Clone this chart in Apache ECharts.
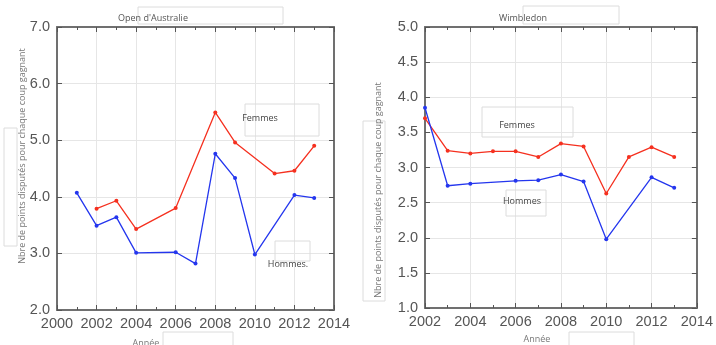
<!DOCTYPE html>
<html>
<head>
<meta charset="utf-8">
<script src="https://cdn.jsdelivr.net/npm/echarts@6/dist/echarts.min.js"></script>
<style>
html,body{margin:0;padding:0;background:#fff;}
#c{width:716px;height:345px;}
</style>
</head>
<body>
<div id="c"></div>
<script>
// Open d'Australie
const ausYearsH = [2001, 2002, 2003, 2004, 2006, 2007, 2008, 2009, 2010, 2012, 2013];
const ausH = [4.07, 3.49, 3.64, 3.01, 3.02, 2.82, 4.76, 4.33, 2.98, 4.03, 3.98];
const ausYearsF = [2002, 2003, 2004, 2006, 2008, 2009, 2011, 2012, 2013];
const ausF = [3.79, 3.93, 3.43, 3.80, 5.49, 4.96, 4.41, 4.46, 4.90];
// Wimbledon
const wimYearsH = [2002, 2003, 2004, 2006, 2007, 2008, 2009, 2010, 2012, 2013];
const wimH = [3.85, 2.74, 2.77, 2.81, 2.82, 2.90, 2.80, 1.98, 2.86, 2.71];
const wimYearsF = [2002, 2003, 2004, 2005, 2006, 2007, 2008, 2009, 2010, 2011, 2012, 2013];
const wimF = [3.70, 3.24, 3.20, 3.23, 3.23, 3.15, 3.34, 3.30, 2.63, 3.15, 3.29, 3.15];

const titles = ["Open d'Australie", "Wimbledon"];
const yLabel = "Nbre de points disputés pour chaque coup gagnant";
const xLabel = "Année";
const nameF = "Femmes", nameH = "Hommes";

const pairs = (xs, ys) => xs.map((x, i) => [x, ys[i]]);

const AX = '#707070', GRID = '#e6e6e6', LBL = '#555';
const FONT = 'Liberation Sans';
const RED = '#f5301f', BLUE = '#2436ee';

function xAx(gi, min, pos) {
  const bottom = pos === 'bottom';
  return {
    type: 'value', gridIndex: gi, min: min, max: 2014, interval: 2, position: pos,
    axisLine: {show: true, onZero: false, lineStyle: {color: AX, width: 2}},
    axisTick: {show: true, inside: true, length: 5, lineStyle: {color: '#555', width: 1}},
    minorTick: {show: true, splitNumber: 2, length: 3, lineStyle: {color: '#555'}},
    axisLabel: {show: bottom, color: LBL, fontSize: 14.5, fontFamily: FONT, margin: 6,
      formatter: v => String(v)},
    splitLine: {show: bottom, lineStyle: {color: GRID, width: 1}}
  };
}
function yAx(gi, min, max, interval, pos) {
  const left = pos === 'left';
  return {
    type: 'value', gridIndex: gi, min: min, max: max, interval: interval, position: pos,
    axisLine: {show: true, onZero: false, lineStyle: {color: AX, width: 2}},
    axisTick: {show: true, inside: true, length: 5, lineStyle: {color: '#555', width: 1}},
    axisLabel: {show: left, color: LBL, fontSize: 14.5, fontFamily: FONT, margin: 7,
      formatter: v => v.toFixed(1)},
    splitLine: {show: left, lineStyle: {color: GRID, width: 1}}
  };
}
function line(name, data, color, xi, yi) {
  return {
    name: name, type: 'line', data: data, xAxisIndex: xi, yAxisIndex: yi,
    symbol: 'circle', symbolSize: 4, showSymbol: true,
    lineStyle: {color: color, width: 1.3}, itemStyle: {color: color},
    animation: false, z: 5
  };
}
function box(x, y, w, h) {
  return {type: 'rect', shape: {x: x, y: y, width: w, height: h},
    style: {fill: 'rgba(255,255,255,0)', stroke: '#dcdcdc', lineWidth: 1}, z: 1};
}
function txt(x, y, s, size, color, rot) {
  return {type: 'text', x: x, y: y, rotation: rot || 0,
    style: {text: s, fill: color || '#555', fontSize: size || 9, fontFamily: 'Open Sans',
      align: 'center', verticalAlign: 'middle'}, z: 10};
}

const chart = echarts.init(document.getElementById('c'), null, {renderer: 'canvas'});
chart.setOption({
  animation: false,
  backgroundColor: '#fff',
  grid: [
    {left: 57, right: 382, top: 27, bottom: 35},
    {left: 425, right: 13, top: 27, bottom: 37}
  ],
  xAxis: [
    xAx(0, 2000, 'bottom'), xAx(0, 2000, 'top'),
    xAx(1, 2002, 'bottom'), xAx(1, 2002, 'top')
  ],
  yAxis: [
    yAx(0, 2, 7, 1, 'left'), yAx(0, 2, 7, 1, 'right'),
    yAx(1, 1, 5, 0.5, 'left'), yAx(1, 1, 5, 0.5, 'right')
  ],
  series: [
    line(nameF, pairs(ausYearsF, ausF), RED, 0, 0),
    line(nameH, pairs(ausYearsH, ausH), BLUE, 0, 0),
    line(nameF, pairs(wimYearsF, wimF), RED, 2, 2),
    line(nameH, pairs(wimYearsH, wimH), BLUE, 2, 2)
  ],
  graphic: [
    box(138, 7, 145, 17), txt(153, 18, titles[0], 9, '#555'),
    box(523, 6, 96, 18), txt(523, 18, titles[1], 9, '#555'),
    box(245, 104, 74, 32), txt(260, 118, nameF, 9, '#444'),
    box(275, 241, 35, 20), txt(288, 264, nameH + '.', 9, '#444'),
    box(482, 107, 91, 30), txt(517, 125, nameF, 9, '#444'),
    box(506, 190, 40, 26), txt(522, 201, nameH, 9, '#444'),
    box(4, 128, 13, 118), txt(22, 156, yLabel, 9, '#777', Math.PI / 2),
    box(363, 121, 22, 180), txt(378, 190, yLabel, 9, '#777', Math.PI / 2),
    box(163, 332, 70, 20), txt(146, 343, xLabel, 9, '#777'),
    box(569, 332, 65, 20), txt(537, 339, xLabel, 9, '#777')
  ]
});
</script>
</body>
</html>
